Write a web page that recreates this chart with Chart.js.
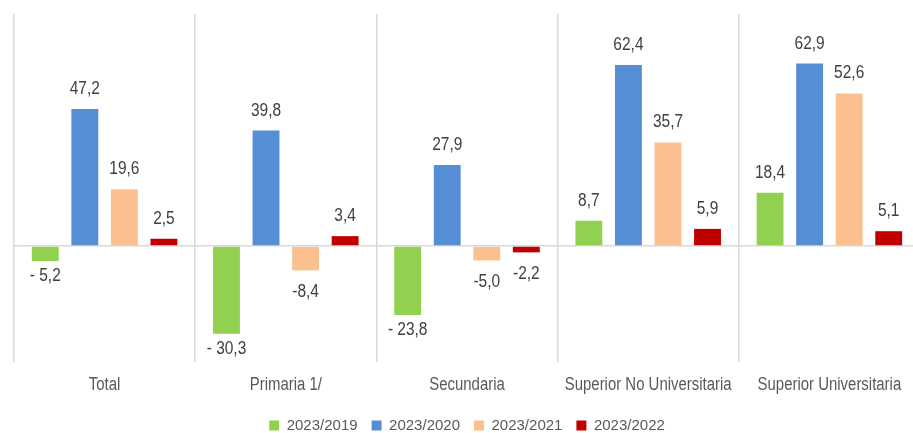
<!DOCTYPE html>
<html lang="es">
<head>
  <meta charset="UTF-8" />
  <title>Variación por nivel educativo</title>
  <script src="https://cdn.jsdelivr.net/npm/chart.js@4.4.1/dist/chart.umd.min.js"></script>
  <style>
    * { box-sizing: border-box; margin: 0; padding: 0; }
    html, body { background: #fff; overflow: hidden; }
    /* un poco más grande que la ventana: la última columna queda recortada como en el original */
    .chart-wrapper { width: 925px; height: 443px; position: relative; }
  </style>
</head>
<body>
  <div class="chart-wrapper">
    <canvas id="chart"></canvas>
  </div>

  <script>
    // Datos
    const categories = ['Total', 'Primaria 1/', 'Secundaria', 'Superior No Universitaria', 'Superior Universitaria'];
    const seriesNames = ['2023/2019', '2023/2020', '2023/2021', '2023/2022'];
    const v2019 = [-5.2, -30.3, -23.8, 8.7, 18.4];
    const v2020 = [47.2, 39.8, 27.9, 62.4, 62.9];
    const v2021 = [19.6, -8.4, -5.0, 35.7, 52.6];
    const v2022 = [2.5, 3.4, -2.2, 5.9, 5.1];
    // Etiquetas tal como aparecen (los negativos de 2019 llevan espacio)
    const lab2019 = ['- 5,2', '- 30,3', '- 23,8', '8,7', '18,4'];
    const lab2020 = ['47,2', '39,8', '27,9', '62,4', '62,9'];
    const lab2021 = ['19,6', '-8,4', '-5,0', '35,7', '52,6'];
    const lab2022 = ['2,5', '3,4', '-2,2', '5,9', '5,1'];

    const colors = ['#92D050', '#558ED5', '#FAC090', '#C00000'];
    const FONT = '"Liberation Sans", Arial, sans-serif';

    // texto "estrecho" (imitando Arial Narrow) escalando en horizontal
    function narrowText(c, text, x, y, sx) {
      c.save();
      c.translate(x, y);
      c.scale(sx, 1);
      c.fillText(text, 0, 0);
      c.restore();
    }

    const narrowLabels = {
      id: 'narrowLabels',
      afterDatasetsDraw(chart) {
        const c = chart.ctx;
        c.save();
        c.textAlign = 'center';
        c.textBaseline = 'middle';
        // valores sobre / bajo las barras
        c.font = '18px ' + FONT;
        c.fillStyle = '#404040';
        chart.data.datasets.forEach((ds, i) => {
          const meta = chart.getDatasetMeta(i);
          meta.data.forEach((bar, j) => {
            const v = ds.data[j];
            let y;
            if (v >= 0) y = bar.y - 20;
            else y = bar.y + (i === 0 ? 15 : 22);
            narrowText(c, ds.valueLabels[j], bar.x, y, 0.86);
          });
        });
        // categorías del eje x
        const xs = chart.scales.x;
        c.fillStyle = '#595959';
        categories.forEach((cat, i) => {
          narrowText(c, cat, xs.getPixelForValue(i), xs.top + 23, 0.83);
        });
        c.restore();
      }
    };

    const datasetsData = [v2019, v2020, v2021, v2022];
    const datasetsLabels = [lab2019, lab2020, lab2021, lab2022];

    new Chart(document.getElementById('chart'), {
      type: 'bar',
      data: {
        labels: categories,
        datasets: seriesNames.map((name, i) => ({
          label: name,
          data: datasetsData[i],
          valueLabels: datasetsLabels[i],
          backgroundColor: colors[i],
          borderWidth: 0,
          categoryPercentage: 0.873,
          barPercentage: 0.68
        }))
      },
      options: {
        responsive: true,
        maintainAspectRatio: false,
        animation: false,
        layout: { padding: { top: 14, left: 14, right: 5, bottom: 0 } },
        plugins: {
          tooltip: { enabled: false },
          legend: {
            position: 'bottom',
            labels: {
              boxWidth: 10,
              boxHeight: 10,
              padding: 14,
              color: '#595959',
              font: { family: FONT, size: 15 }
            }
          }
        },
        scales: {
          x: {
            border: { display: false },
            grid: {
              offset: true,
              color: '#d9d9d9',
              lineWidth: 1.5,
              drawTicks: false
            },
            ticks: {
              // se dibujan en narrowLabels; aquí solo reservan el espacio
              color: 'rgba(0,0,0,0)',
              padding: 15,
              maxRotation: 0,
              minRotation: 0,
              autoSkip: false,
              font: { family: FONT, size: 15 }
            },
            afterFit: (axis) => { axis.height -= 6; }
          },
          y: {
            min: -40,
            max: 80,
            border: { display: false },
            ticks: { display: false, stepSize: 20 },
            grid: {
              drawTicks: false,
              color: (ctx) => (ctx.tick && ctx.tick.value === 0 ? '#d9d9d9' : 'rgba(0,0,0,0)'),
              lineWidth: 1.5
            }
          }
        }
      },
      plugins: [narrowLabels]
    });
  </script>
</body>
</html>
